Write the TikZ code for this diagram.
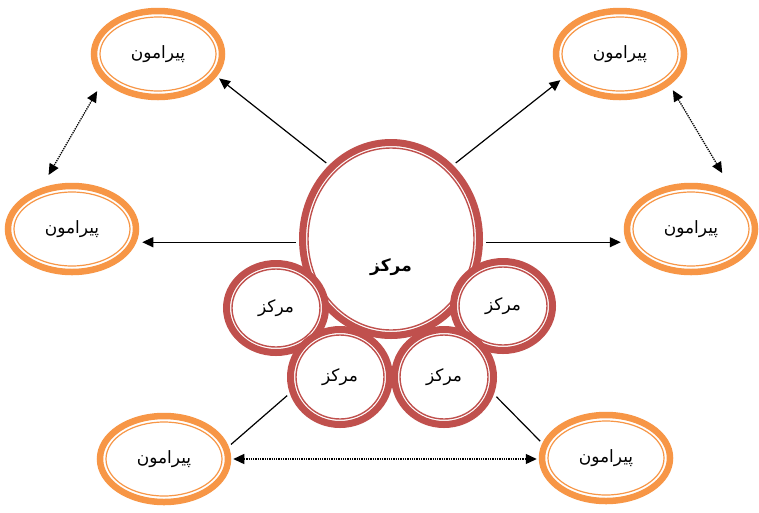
\documentclass[tikz,border=0pt]{standalone}
\usepackage{fontspec}
\usetikzlibrary{shapes.geometric,arrows.meta}
\TeXXeTstate=1
\newfontfamily\arabicfont[Script=Arabic]{DejaVu Sans}
\definecolor{peri}{HTML}{F79646}
\definecolor{core}{HTML}{C0504D}
\begin{document}
\begin{tikzpicture}[x=1pt,y=-1pt,
  perinode/.style={ellipse, draw=peri, line width=6.5pt, fill=white, minimum width=128pt, minimum height=86pt, inner sep=0pt, font=\arabicfont\fontsize{17}{19}\selectfont},
  corenode/.style={ellipse, draw=core, line width=7pt, fill=white, inner sep=0pt},
  smallcore/.style={corenode, font=\arabicfont\fontsize{17}{19}\selectfont},
  periin/.style={draw=peri, line width=1.2pt},
  corein/.style={draw=core, line width=1.4pt},
  tip/.tip={Triangle[length=11pt,width=10pt]},
  arr/.style={-tip, line width=1.2pt, black, shorten <=3.5pt, shorten >=3pt},
  plainline/.style={line width=1.2pt, black, shorten <=3.5pt, shorten >=3pt},
  darr/.style={tip-tip, densely dotted, line width=1.3pt, black}
]
\useasboundingbox[fill=white] (0,0) rectangle (759,512);

% peripheral ellipses
\foreach \n/\x/\y in {tl/158/54, tr/620/54, ml/72/229, mr/691/229, bl/164/459, br/606/458}{
  \node[perinode] (\n) at (\x,\y) {\beginR پیرامون\endR};
  \draw[periin] (\n.center) ellipse [x radius=58, y radius=37];
}

% core circles
\node[corenode, minimum width=177pt, minimum height=193pt] (big) at (391,239) {};
\draw[corein] (big.center) ellipse [x radius=83, y radius=91];
\node[font=\arabicfont\bfseries\fontsize{17}{19}\selectfont] (bigt) at (391,267) {\beginR مرکز\endR};

\foreach \n/\x/\y/\w/\h in {sl/276/308/99/89, sr/503/306/99/89, sbl/340/377/99/95, sbr/444/377/99/95}{
  \node[smallcore, minimum width=\w pt, minimum height=\h pt] (\n) at (\x,\y) {\beginR مرکز\endR};
  \draw[corein] (\n.center) ellipse [x radius=\w/2-5.5, y radius=\h/2-5.5];
}

% connectors
\draw[arr] (big.130) -- (tl.339);
\draw[arr] (big.50) -- (tr.203);
\draw[arr] (big.182) -- (big.182 -| ml.east);
\draw[arr] (big.358) -- (big.358 -| mr.west);
\draw[plainline] (sbl.198) -- (bl.11);
\draw[plainline] (sbr.341) -- (br.167);

\draw[darr, shorten <=12pt, shorten >=15pt] (tl.206) -- (ml.127);
\draw[darr, shorten <=6pt, shorten >=24pt] (tr.328) -- (mr.39);
\draw[darr, shorten <=2pt, shorten >=2pt] (bl.east) -- (bl.east -| br.west);
\end{tikzpicture}
\end{document}
